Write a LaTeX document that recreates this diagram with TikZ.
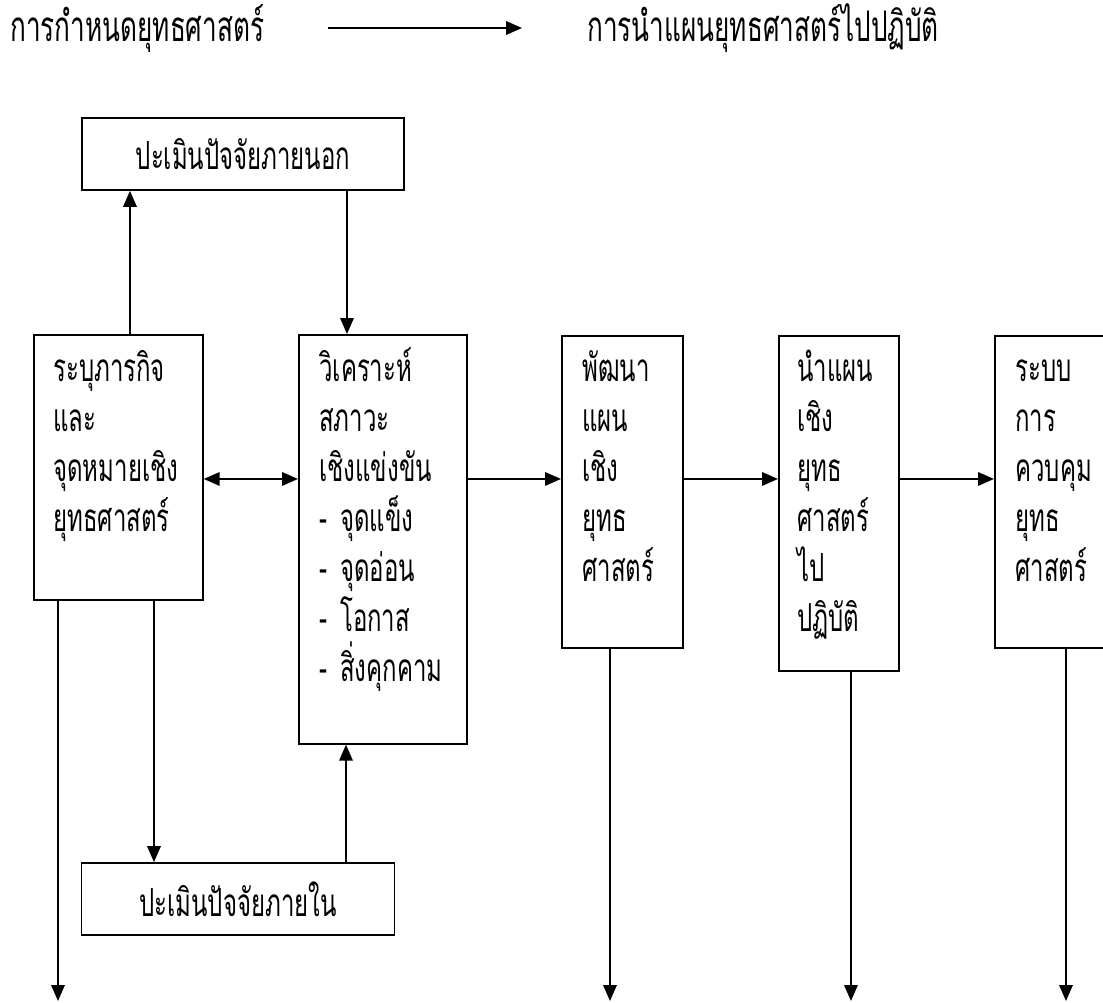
\documentclass[tikz,border=0pt]{standalone}
\usepackage{fontspec}
\newfontfamily\thai[Script=Thai,FakeStretch=0.62]{Loma}
\usetikzlibrary{arrows.meta,calc}

\tikzset{
  frame/.style={draw, line width=1pt, inner sep=0pt, anchor=north west},
  lines/.style={font=\thai\fontsize{22pt}{1cm}\selectfont, align=left,
    text width=2.8cm, inner sep=0pt, anchor=base west},
  heading/.style={font=\thai\fontsize{24pt}{1cm}\selectfont, inner sep=0pt, anchor=base west},
  arr/.style={line width=1pt, -{Triangle[length=0.32cm, width=0.27cm]}},
  twoway/.style={line width=1pt, {Triangle[length=0.32cm, width=0.27cm]}-{Triangle[length=0.32cm, width=0.27cm]}}
}

\begin{document}
\begin{tikzpicture}[x=0.02cm, y=-0.02cm]
        \useasboundingbox (0,0) rectangle (1103,1003);
        \clip (0,0) rectangle (1103,1003);

        % heading
        \node[heading] (formul) at (10,42) {การกำหนดยุทธศาสตร์};
        \node[heading] (implem) at (587,42) {การนำแผนยุทธศาสตร์ไปปฏิบัติ};
        \draw[arr] ($(formul.base east)+(63,-14)$) -- ($(implem.base west)+(-65,-14)$);

        % boxes
        \node[frame, minimum width=3.38cm, minimum height=5.3cm] (mission) at (33,334) {};
        \node[frame, minimum width=3.36cm, minimum height=8.18cm] (analysis) at (298,334) {};
        \node[frame, minimum width=2.42cm, minimum height=6.24cm] (plan) at (561,335) {};
        \node[frame, minimum width=2.4cm, minimum height=6.7cm] (implement) at (778,335) {};
        \node[frame, minimum width=2.4cm, minimum height=6.24cm] (control) at (994,335) {};
        \node[frame, anchor=center, minimum width=6.44cm, minimum height=1.44cm,
            font=\thai\fontsize{22pt}{1cm}\selectfont] (extern) at (243,154) {ปะเมินปัจจัยภายนอก};
        \node[frame, anchor=center, minimum width=6.26cm, minimum height=1.44cm,
            font=\thai\fontsize{22pt}{1cm}\selectfont] (intern) at (238,899) {ปะเมินปัจจัยภายใน};

        % box texts
        \node[lines] (missiontxt) at ([shift={(20,48)}]mission.north west)
            {ระบุภารกิจ\\และ\\จุดหมายเชิง\\ยุทธศาสตร์};
        \node[lines] (analysistxt) at ([shift={(21,48)}]analysis.north west)
            {วิเคราะห์\\สภาวะ\\เชิงแข่งขัน\\- จุดแข็ง\\- จุดอ่อน\\- โอกาส\\- สิ่งคุกคาม};
        \node[lines] (plantxt) at ([shift={(21,47)}]plan.north west)
            {พัฒนา\\แผน\\เชิง\\ยุทธ\\ศาสตร์};
        \node[lines] (implementtxt) at ([shift={(19,47)}]implement.north west)
            {นำแผน\\เชิง\\ยุทธ\\ศาสตร์\\ไป\\ปฏิบัติ};
        \node[lines] (controltxt) at ([shift={(21,47)}]control.north west)
            {ระบบ\\การ\\ควบคุม\\ยุทธ\\ศาสตร์};

        \coordinate (floor) at (0,1001);

        % links above and below
        \draw[arr] ([xshift=1.94cm]mission.north west) -- ([xshift=1.94cm]mission.north west |- extern.south);
        \draw[arr] ([xshift=0.98cm]analysis.north west |- extern.south) -- ([xshift=0.98cm]analysis.north west);
        \draw[arr] ([xshift=2.42cm]mission.south west) -- ([xshift=2.42cm]mission.south west |- intern.north);
        \draw[arr] ([xshift=0.96cm]analysis.south west |- intern.north) -- ([xshift=0.96cm]analysis.south west);

        % main row
        \draw[twoway] ([yshift=-2.9cm]mission.north east) -- ([yshift=-2.9cm]mission.north east -| analysis.west);
        \draw[arr] ([yshift=-2.9cm]analysis.north east) -- ([yshift=-2.9cm]analysis.north east -| plan.west);
        \draw[arr] ([yshift=-2.88cm]plan.north east) -- ([yshift=-2.88cm]plan.north east -| implement.west);
        \draw[arr] ([yshift=-2.88cm]implement.north east) -- ([yshift=-2.88cm]implement.north east -| control.west);

        % outputs
        \draw[arr] ([xshift=0.5cm]mission.south west) -- ([xshift=0.5cm]mission.south west |- floor);
        \draw[arr] ([xshift=0.98cm]plan.south west) -- ([xshift=0.98cm]plan.south west |- floor);
        \draw[arr] ([xshift=1.46cm]implement.south west) -- ([xshift=1.46cm]implement.south west |- floor);
        \draw[arr] ([xshift=1.44cm]control.south west) -- ([xshift=1.44cm]control.south west |- floor);
\end{tikzpicture}
\end{document}
